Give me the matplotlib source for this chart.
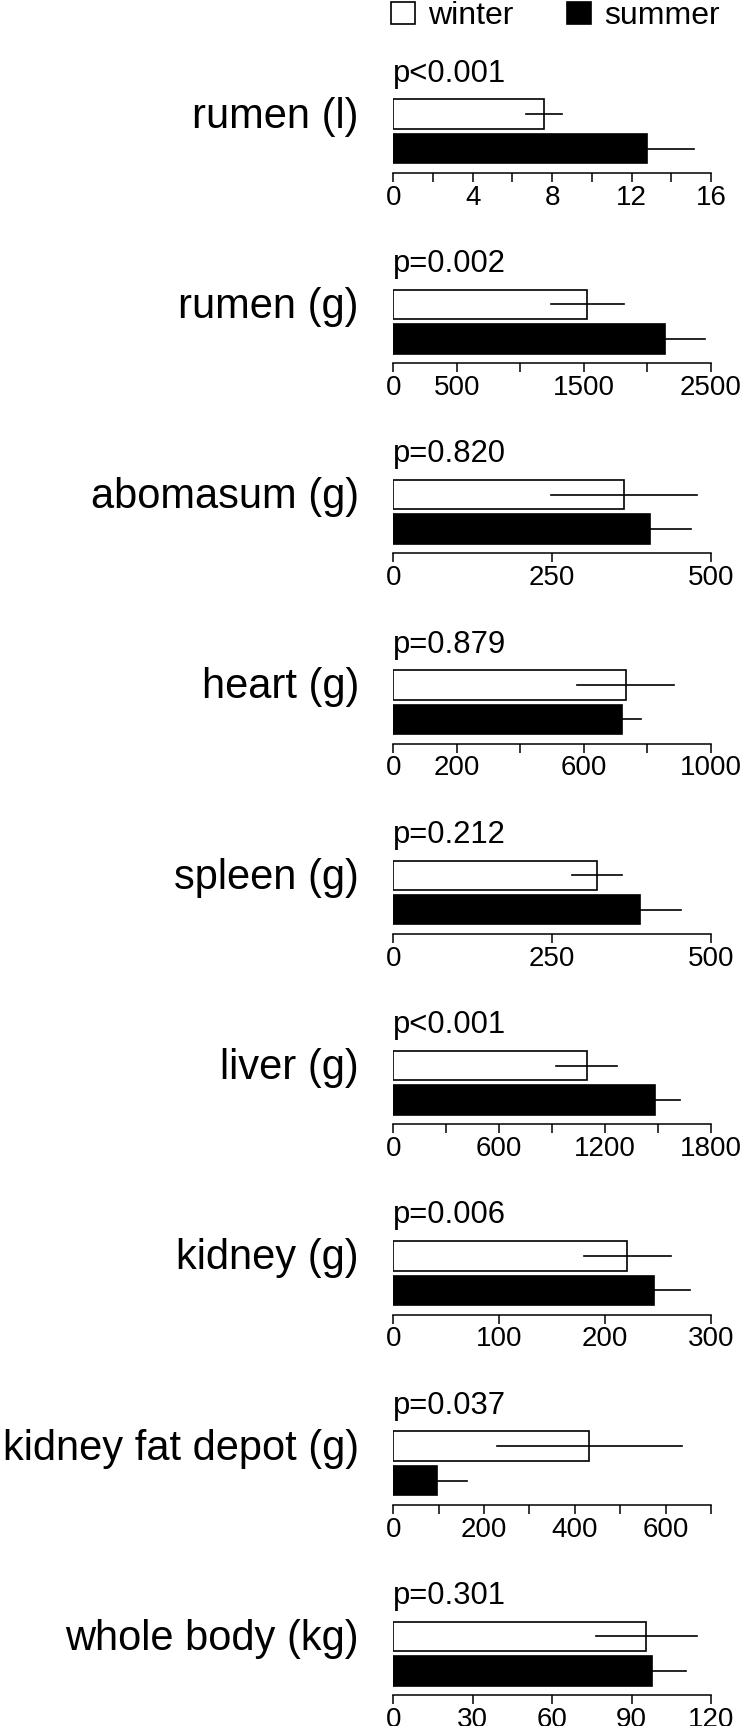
import matplotlib
matplotlib.use("Agg")
import matplotlib.pyplot as plt
import matplotlib.transforms as mtransforms
from matplotlib.patches import Patch
import numpy as np

plt.rcParams["font.family"] = ["Liberation Sans", "DejaVu Sans"]

# ── Data ─────────────────────────────────────────────────────────────────────
organs = ["rumen (l)", "rumen (g)", "abomasum (g)", "heart (g)", "spleen (g)",
          "liver (g)", "kidney (g)", "kidney fat depot (g)", "whole body (kg)"]
p_values = ["p<0.001", "p=0.002", "p=0.820", "p=0.879", "p=0.212",
            "p<0.001", "p=0.006", "p=0.037", "p=0.301"]

winter_mean = [7.6, 1528, 363, 731, 321, 1095, 221, 432, 95.6]
winter_err = [0.9, 290, 115, 153, 39, 171, 41, 204, 19]
summer_mean = [12.8, 2136, 404, 720, 388, 1483, 246, 97, 97.7]
summer_err = [2.35, 314, 64, 61, 64, 140, 34, 65, 13]

# axis maxima, tick steps and the tick values that carry a label
x_max = [16, 2500, 500, 1000, 500, 1800, 300, 700, 120]
tick_step = [2, 500, 250, 200, 250, 300, 100, 100, 30]
tick_labels = [
    [0, 4, 8, 12, 16],
    [0, 500, 1500, 2500],
    [0, 250, 500],
    [0, 200, 600, 1000],
    [0, 250, 500],
    [0, 600, 1200, 1800],
    [0, 100, 200, 300],
    [0, 200, 400, 600],
    [0, 30, 60, 90, 120],
]

# ── Layout (pixels of a 742 x 1726 figure) ───────────────────────────────────
W, H = 742, 1726
AX_LEFT, AX_WIDTH = 393.3, 317.7
FIRST_AXIS_Y, PANEL_STEP = 172.7, 190.3
UNIT = 34.5               # pixels between the two bar centres
Y_LO, Y_HI = -0.70, 2.5

fig = plt.figure(figsize=(W / 100, H / 100), dpi=100)

for i, organ in enumerate(organs):
    axis_y = FIRST_AXIS_Y + PANEL_STEP * i
    bottom = 1 - axis_y / H
    height = (Y_HI - Y_LO) * UNIT / H
    ax = fig.add_axes([AX_LEFT / W, bottom, AX_WIDTH / W, height])

    # summer at 0, winter at 1
    ax.barh([1], [winter_mean[i]], height=0.855, color="white",
            edgecolor="black", linewidth=1.2)
    ax.barh([0], [summer_mean[i]], height=0.855, color="black",
            edgecolor="black", linewidth=1.2)
    ax.plot([winter_mean[i] - winter_err[i], winter_mean[i] + winter_err[i]],
            [1, 1], color="black", linewidth=1.2, clip_on=False)
    ax.plot([summer_mean[i], summer_mean[i] + summer_err[i]],
            [0, 0], color="black", linewidth=1.2, clip_on=False)

    ax.set_xlim(0, x_max[i])
    ax.set_ylim(Y_LO, Y_HI)

    all_ticks = np.arange(0, x_max[i] + tick_step[i] / 2, tick_step[i])
    minor = [t for t in all_ticks if t not in tick_labels[i]]
    ax.set_xticks(tick_labels[i])
    ax.set_xticklabels([str(t) for t in tick_labels[i]])
    ax.set_xticks(minor, minor=True)
    ax.tick_params(axis="x", which="both", direction="out", length=6.5,
                   width=1.1, pad=2, labelsize=20)
    ax.set_yticks([])
    for side in ["top", "right", "left"]:
        ax.spines[side].set_visible(False)
    ax.spines["bottom"].set_linewidth(1.1)
    ax.patch.set_visible(False)

    ax.text(0, 1.94, p_values[i], fontsize=22.3, ha="left", va="baseline")

    trans = mtransforms.blended_transform_factory(fig.transFigure, ax.transData)
    ax.text(359 / W, 0.61, organ, transform=trans, fontsize=30,
            ha="right", va="baseline")

handles = [Patch(facecolor="white", edgecolor="black", linewidth=1.2, label="winter"),
           Patch(facecolor="black", edgecolor="black", linewidth=1.2, label="summer")]
fig.legend(handles=handles, loc="upper left", bbox_to_anchor=(391 / W, 0.9995),
           ncol=2, frameon=False, fontsize=23, handlelength=0.75,
           handleheight=0.7, handletextpad=0.4, columnspacing=1.7,
           borderpad=0, borderaxespad=0)

fig.savefig("out.png", dpi=100)
